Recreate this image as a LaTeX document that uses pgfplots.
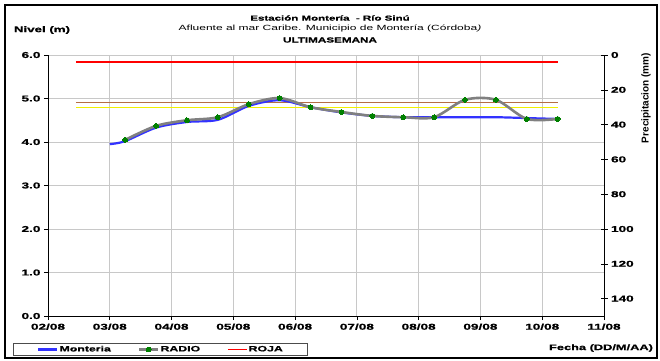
\documentclass[border=0pt]{standalone}
\usepackage{pgfplots}
\pgfplotsset{compat=1.18}
\usepackage{fontspec}
\setmainfont{Liberation Sans}[FakeStretch=1.6, BoldFeatures={FakeBold=1}]
\newfontfamily\plainfont{Liberation Sans}
\definecolor{monteria}{RGB}{50,50,255}
\definecolor{radio}{RGB}{128,128,128}
\definecolor{radiomark}{RGB}{0,128,0}
\definecolor{naranja}{RGB}{180,110,70}
\definecolor{amarilla}{RGB}{240,240,0}
\definecolor{grilla}{RGB}{200,200,200}

\begin{document}
\begin{tikzpicture}
\useasboundingbox (0pt,0pt) rectangle (660pt,360pt);
\draw[line width=2pt] (5pt,2pt) rectangle (657pt,355pt);

% titulos
\node[font=\fontsize{7.2}{8}\selectfont\bfseries] at (330pt,342pt) {Estación Montería \ - Río Sinú};
\node[font=\fontsize{7.5}{8}\selectfont] at (330pt,331pt) {Afluente al mar Caribe. Municipio de Montería (Córdoba\textit{)}};
\node[font=\fontsize{7.3}{8}\selectfont\bfseries] at (330pt,320pt) {ULTIMASEMANA};
\node[font=\fontsize{8.3}{9}\selectfont\bfseries] at (42pt,330pt) {Nivel (m)};
\node[font=\fontsize{8}{9}\selectfont\bfseries] at (601pt,12pt) {Fecha (DD/M/AA)};
\node[font=\plainfont\fontsize{10}{11}\selectfont\bfseries, rotate=90] at (646pt,262pt) {Precipitacion (mm)};

\begin{axis}[
  at={(48pt,44pt)}, anchor=south west,
  scale only axis, width=556pt, height=261pt,
  xmin=2, xmax=11, ymin=0, ymax=6,
  axis x line*=bottom, axis y line*=left,
  axis line style={line width=0.8pt,-},
  xtick={2,...,11},
  xticklabels={02/08,03/08,04/08,05/08,06/08,07/08,08/08,09/08,10/08,11/08},
  ytick={0,1,...,6},
  yticklabel style={/pgf/number format/fixed,/pgf/number format/fixed zerofill,/pgf/number format/precision=1},
  /pgf/number format/assume math mode=true,
  tick label style={font=\fontsize{8.5}{9}\selectfont\bfseries},
  tick align=outside, major tick length=4pt,
  tick style={black, line width=0.6pt},
  grid=major, major grid style={grilla, line width=0.8pt},
  legend columns=3,
  legend style={at={(-0.063,-0.128)}, anchor=west, draw=black!70, line width=0.8pt,
    font=\fontsize{7.7}{8}\selectfont\bfseries, inner xsep=24pt, inner ysep=0.5pt,
    /tikz/every even column/.append style={column sep=26pt},
    nodes={inner xsep=1pt, inner ysep=2pt}},
  legend image code/.code={\draw[mark repeat=2, mark phase=2, #1] plot coordinates {(0pt,0pt) (9.5pt,0pt) (19pt,0pt)};},
]
\addplot[naranja, line width=0.9pt, forget plot] coordinates {(2.45,4.92) (10.25,4.92)};
\addplot[amarilla, line width=0.9pt, forget plot] coordinates {(2.45,4.80) (10.25,4.80)};
\addplot[monteria, line width=2.2pt, smooth] coordinates {
(3.00,3.95) (3.25,4.02) (3.75,4.33) (4.25,4.46) (4.75,4.51) (5.25,4.83)
(5.75,4.96) (6.25,4.80) (6.75,4.68) (7.25,4.60) (7.75,4.57) (8.25,4.57)
(8.75,4.57) (9.25,4.57) (9.75,4.55) (10.25,4.53)};
\addlegendentry{Monteria}
\addplot[radio, line width=2.6pt, smooth, mark=*, mark size=2.4pt,
  mark options={draw=radiomark, fill=radiomark, line width=0pt}] coordinates {
(3.25,4.05) (3.75,4.37) (4.25,4.50) (4.75,4.57) (5.25,4.87) (5.75,5.01)
(6.25,4.80) (6.75,4.69) (7.25,4.60) (7.75,4.57) (8.25,4.57) (8.75,4.97)
(9.25,4.97) (9.75,4.53) (10.25,4.53)};
\addlegendentry{RADIO}
\addplot[red, line width=1.1pt, legend image post style={draw=red, line width=1.4pt}] coordinates {(2.45,5.84) (10.25,5.84)};
\addlegendentry{ROJA}
\end{axis}

\begin{axis}[
  at={(48pt,44pt)}, anchor=south west,
  scale only axis, width=556pt, height=261pt,
  xmin=2, xmax=11, ymin=0, ymax=150, y dir=reverse,
  axis y line*=right, axis x line=none,
  axis line style={line width=0.8pt,-},
  ytick={0,20,...,140},
  /pgf/number format/assume math mode=true,
  tick label style={font=\fontsize{8.5}{9}\selectfont\bfseries},
  tick align=center, major tick length=7pt,
  tick style={black, line width=0.6pt},
]
\addplot[draw=none] coordinates {(2,0) (11,150)};
\end{axis}
\end{tikzpicture}
\end{document}
